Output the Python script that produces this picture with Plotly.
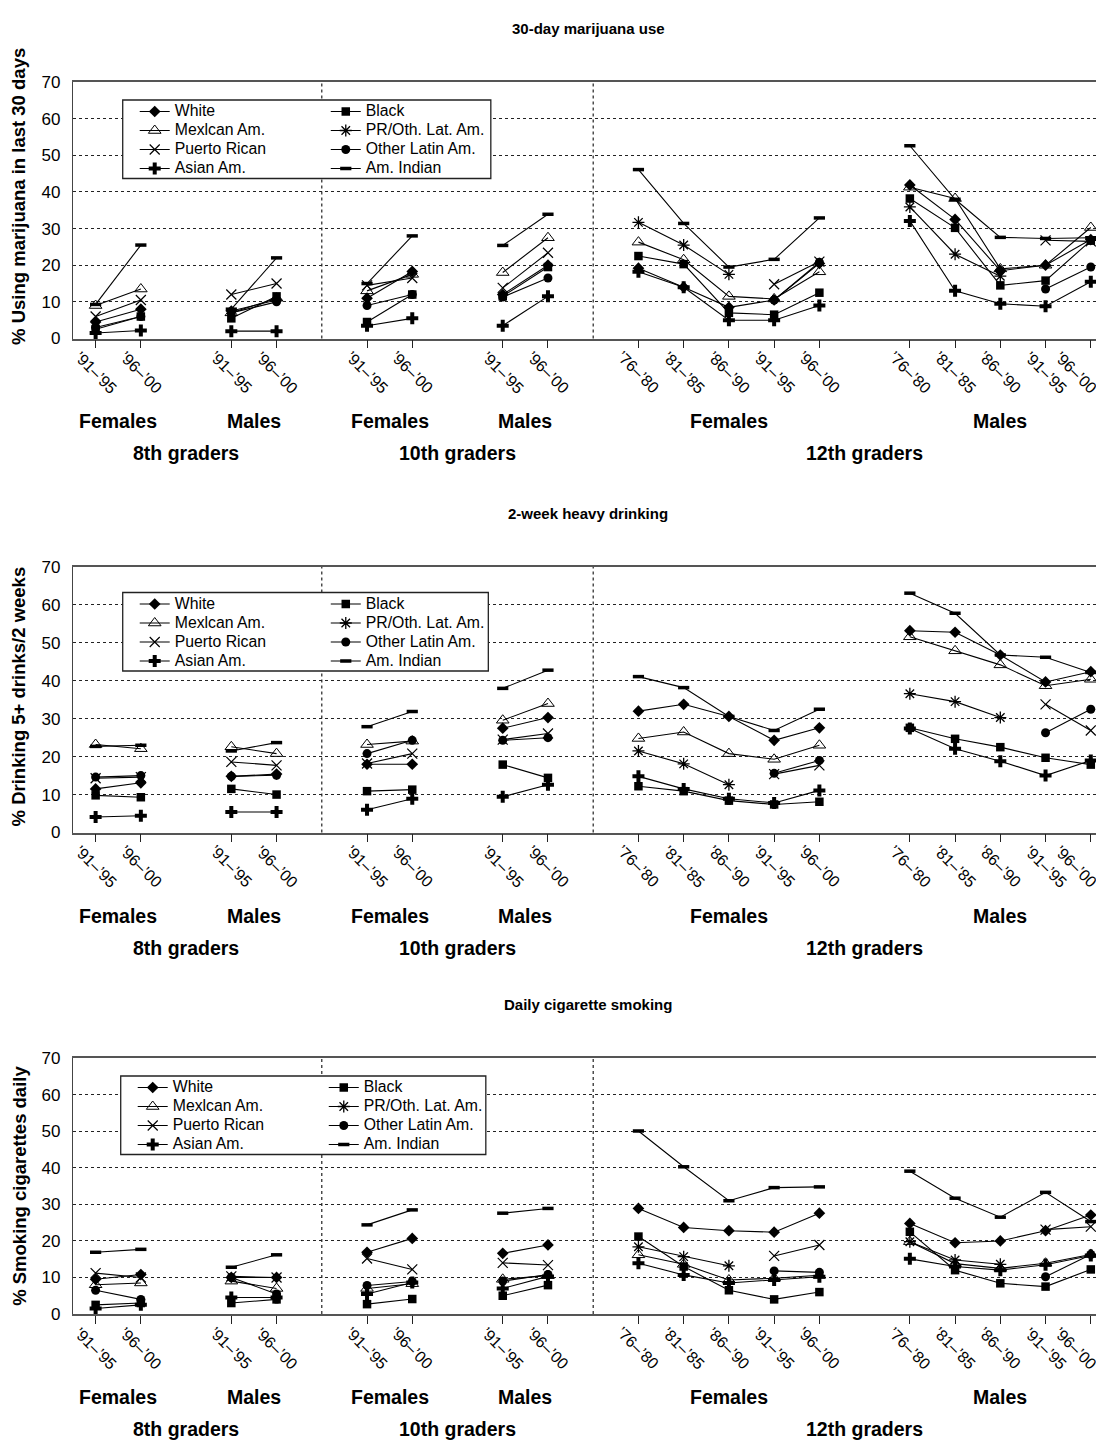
import plotly.graph_objects as go

# ---------------- categories / labels ----------------
tick_labels = ["’91–’95", "’96–’00", "’91–’95", "’96–’00",
               "’91–’95", "’96–’00", "’91–’95", "’96–’00",
               "’76–’80", "’81–’85", "’86–’90", "’91–’95", "’96–’00",
               "’76–’80", "’81–’85", "’86–’90", "’91–’95", "’96–’00"]
group_sizes = [2, 2, 2, 2, 5, 5]
sex_labels = ["Females", "Males", "Females", "Males", "Females", "Males"]
grade_labels = ["8th graders", "10th graders", "12th graders"]
panel_titles = ["30-day marijuana use", "2-week heavy drinking", "Daily cigarette smoking"]
y_titles = ["% Using marijuana in last 30 days", "% Drinking 5+ drinks/2 weeks",
            "% Smoking cigarettes daily"]
series_names = ["White", "Black", "Mexlcan Am.", "PR/Oth. Lat. Am.",
                "Puerto Rican", "Other Latin Am.", "Asian Am.", "Am. Indian"]
N = None

# ---------------- panel 1: 30-day marijuana use ----------------
mj_white = [4.5, 8.0, 7.5, 10.5, 11.0, 18.3, 12.0, 20.0, 19.2, 14.0, 8.5, 10.5, 20.5, 41.9, 32.5, 18.5, 20.0, 27.0]
mj_black = [2.5, 6.0, 5.5, 11.5, 4.5, 12.0, 11.5, 19.5, 22.5, 20.3, 7.0, 6.5, 12.5, 38.2, 30.2, 14.5, 15.8, 26.7]
mj_mexican = [9.0, 13.5, 7.0, 11.0, 13.0, 17.5, 18.0, 27.5, 26.3, 21.5, 11.5, 10.8, 18.2, 41.3, 38.2, 19.0, 20.0, 30.3]
mj_proth = [N, N, N, N, N, N, N, N, 31.7, 25.5, 17.5, N, N, 35.9, 23.0, 17.0, N, N]
mj_pr = [6.0, 10.5, 12.0, 15.0, 14.5, 16.5, 13.8, 23.4, N, N, N, 14.8, 21.0, N, N, N, 26.8, 26.5]
mj_othlat = [3.0, 6.0, 7.0, 10.0, 9.0, 12.0, 11.3, 16.5, N, N, N, 10.5, 20.8, N, N, N, 13.5, 19.5]
mj_asian = [1.5, 2.2, 2.0, 2.0, 3.5, 5.5, 3.5, 11.5, 18.2, 14.0, 5.0, 5.0, 9.0, 32.1, 13.0, 9.5, 8.8, 15.5]
mj_amind = [9.3, 25.5, 8.0, 22.0, 15.0, 28.0, 25.4, 33.9, 46.1, 31.4, 19.5, 21.6, 32.9, 52.6, 38.0, 27.6, 27.3, 27.5]

# ---------------- panel 2: 2-week heavy drinking ----------------
hd_white = [11.5, 13.1, 14.8, 15.4, 18.0, 18.0, 27.5, 30.3, 32.0, 33.8, 30.6, 24.3, 27.6, 53.2, 52.8, 46.8, 39.7, 42.4]
hd_black = [9.8, 9.3, 11.5, 10.0, 10.9, 11.3, 17.9, 14.4, 12.2, 10.9, 8.4, 7.4, 8.1, 27.6, 24.7, 22.5, 19.7, 17.9]
hd_mexican = [23.2, 22.1, 22.6, 20.8, 23.2, 24.1, 29.6, 34.0, 24.8, 26.5, 20.8, 19.3, 23.0, 51.6, 47.9, 44.2, 38.7, 40.4]
hd_proth = [N, N, N, N, N, N, N, N, 21.5, 18.1, 12.6, N, N, 36.6, 34.5, 30.3, N, N]
hd_pr = [14.3, 14.6, 18.6, 17.7, 18.2, 20.8, 24.5, 26.1, N, N, N, 15.4, 17.7, N, N, N, 33.8, 26.9]
hd_othlat = [14.6, 15.0, 14.8, 15.1, 20.8, 24.3, 24.3, 25.0, N, N, N, 15.6, 19.0, N, N, N, 26.3, 32.5]
hd_asian = [4.1, 4.4, 5.4, 5.4, 6.0, 8.9, 9.4, 12.6, 14.8, 11.5, 8.9, 7.8, 11.1, 27.4, 22.1, 18.8, 15.0, 19.0]
hd_amind = [22.7, 23.0, 21.5, 23.7, 27.9, 31.9, 38.0, 42.8, 41.1, 38.2, 30.6, 26.9, 32.5, 63.1, 57.8, 46.8, 46.2, 42.2]

# ---------------- panel 3: daily cigarette smoking ----------------
cs_white = [9.5, 10.8, 10.0, 10.0, 16.9, 20.7, 16.6, 18.9, 28.9, 23.7, 22.8, 22.4, 27.6, 24.8, 19.5, 20.0, 22.8, 27.1]
cs_black = [2.5, 3.0, 3.0, 4.0, 2.7, 4.1, 5.0, 7.9, 21.2, 13.0, 6.5, 4.0, 6.0, 22.5, 12.0, 8.4, 7.5, 12.2]
cs_mexican = [8.0, 8.5, 9.0, 7.0, 7.0, 8.3, 9.5, 10.5, 16.2, 13.6, 9.3, 9.8, 10.6, 19.8, 13.8, 12.5, 13.9, 16.3]
cs_proth = [N, N, N, N, N, N, N, N, 18.4, 15.7, 13.2, N, N, 19.8, 14.8, 13.6, N, N]
cs_pr = [11.2, 10.0, 10.3, 10.0, 15.2, 12.2, 14.0, 13.4, N, N, N, 15.9, 18.9, N, N, N, 23.1, 23.9]
cs_othlat = [6.5, 4.0, 10.0, 5.5, 7.8, 8.9, 9.0, 10.8, N, N, N, 11.8, 11.4, N, N, N, 10.2, 16.3]
cs_asian = [1.5, 2.5, 4.5, 4.5, 5.5, 8.6, 7.0, 10.3, 13.9, 10.7, 8.5, 9.3, 10.2, 15.1, 13.0, 12.0, 13.5, 16.0]
cs_amind = [16.9, 17.7, 12.8, 16.2, 24.4, 28.5, 27.6, 28.9, 50.1, 40.3, 31.0, 34.6, 34.8, 39.1, 31.7, 26.5, 33.3, 25.3]

panels = [
    [mj_white, mj_black, mj_mexican, mj_proth, mj_pr, mj_othlat, mj_asian, mj_amind],
    [hd_white, hd_black, hd_mexican, hd_proth, hd_pr, hd_othlat, hd_asian, hd_amind],
    [cs_white, cs_black, cs_mexican, cs_proth, cs_pr, cs_othlat, cs_asian, cs_amind],
]

# ---------------- styling / layout constants ----------------
OFF = 8                      # page body margin of the html page
W, H = 1104 - OFF, 1441 - OFF
PLOT_L, PLOT_R = 73.3, 1103  # target plot-area edges (screen px)
ML = PLOT_L - OFF
MR = W - (PLOT_R - OFF)
PW = W - ML - MR
FONT = "Arial, 'Liberation Sans', Helvetica, sans-serif"

# x slot positions for categories (gaps between groups)
slots = []
pos = 0
for g in group_sizes:
    for _ in range(g):
        slots.append(pos)
        pos += 1
    pos += 1
dividers = [5, 11]

markers = [
    dict(symbol="diamond", size=9, color="black"),
    dict(symbol="square", size=8.5, color="black"),
    dict(symbol="triangle-up-open", size=11, color="black", line=dict(width=1, color="black")),
    dict(symbol="asterisk-open", size=10, color="black", line=dict(width=1.3, color="black")),
    dict(symbol="x-thin-open", size=10, color="black", line=dict(width=1.2, color="black")),
    dict(symbol="circle", size=9, color="black"),
    dict(symbol="cross", size=10, color="black"),
    dict(symbol="line-ew-open", size=8, color="black", line=dict(width=3.5, color="black")),
]
left_col = [0, 2, 4, 6]

# panel geometry in screen px (top, bottom)
panel_px = [(82, 338.5), (567, 832.5), (1058.3, 1314)]
legend_box_px = [(123, 100, 491, 178.5), (123, 592.5, 488.5, 671), (121, 1076, 486, 1154.5)]
ytitle_shift = [14, 3, 0]


def px_x(px):
    return (px - OFF - ML) / PW


def px_y(py):
    return 1 - (py - OFF) / H


def split(values):
    xs, ys = [], []
    i = 0
    for g in group_sizes:
        for _ in range(g):
            xs.append(slots[i])
            ys.append(values[i])
            i += 1
        xs.append(None)
        ys.append(None)
    return xs, ys


fig = go.Figure()
annotations = []
shapes = []
layout = {}

for p in range(3):
    k = p + 1
    xa = "x" if k == 1 else f"x{k}"
    ya = "y" if k == 1 else f"y{k}"
    lg_left = "legend" if k == 1 else f"legend{2 * k - 1}"
    lg_right = f"legend{2 * k}"
    order = [0, 2, 4, 6, 1, 3, 5, 7]
    for s in order:
        xs, ys = split(panels[p][s])
        fig.add_trace(go.Scatter(
            x=xs, y=ys, mode="lines+markers",
            name=f"<span style='font-size:15.8px'>{series_names[s]}</span>",
            line=dict(color="black", width=1.1), marker=markers[s],
            connectgaps=False, xaxis=xa, yaxis=ya,
            legend=lg_left if s in left_col else lg_right,
            hoverinfo="skip", cliponaxis=False,
        ))

    top, bot = panel_px[p]
    layout[f"xaxis{'' if k == 1 else k}"] = dict(
        domain=[0, 1], anchor=ya, range=[-0.5, 22.27],
        showgrid=False, zeroline=False, showline=True, mirror=True,
        linecolor="#555", linewidth=1.6,
        tickvals=slots, ticktext=[""] * len(slots), ticks="outside",
        ticklen=8, tickcolor="#222", tickwidth=1, automargin=False,
    )
    layout[f"yaxis{'' if k == 1 else k}"] = dict(
        domain=[px_y(bot), px_y(top)], anchor=xa, range=[0, 70],
        tickvals=[0, 10, 20, 30, 40, 50, 60, 70],
        showgrid=True, gridcolor="#222", griddash="dot", gridwidth=1,
        zeroline=False, showline=True, linecolor="#444", linewidth=1.3,
        ticks="", tickfont=dict(size=17, family=FONT, color="black"),
        ticklabelstandoff=8, automargin=False,
    )
    for d in dividers:
        shapes.append(dict(type="line", xref=xa, yref=f"{ya} domain", x0=d, x1=d, y0=0, y1=1,
                           line=dict(color="#222", width=1.2, dash="dot"), layer="below"))

    # legend box
    bx0, by0, bx1, by1 = legend_box_px[p]
    shapes.append(dict(type="rect", xref="paper", yref="paper",
                       x0=px_x(bx0), x1=px_x(bx1), y0=px_y(by1), y1=px_y(by0),
                       fillcolor="white", line=dict(color="#222", width=1.3), layer="above"))
    legend_common = dict(xanchor="left", yanchor="top", bgcolor="rgba(0,0,0,0)", borderwidth=0,
                         font=dict(size=12, family=FONT, color="black"), itemwidth=30,
                         traceorder="normal", orientation="v")
    layout[lg_left] = dict(x=px_x(bx0 + 12), y=px_y(by0 - 3), **legend_common)
    layout[lg_right] = dict(x=px_x(bx0 + 203), y=px_y(by0 - 3), **legend_common)

    # rotated tick labels (centered under ticks, last one kept inside the page)
    for i, lab in enumerate(tick_labels):
        annotations.append(dict(text=lab, x=slots[i], xref=xa, y=0, yref=f"{ya} domain",
                                yshift=-34, xshift=(-15 if i == len(tick_labels) - 1 else 0),
                                yanchor="middle", xanchor="center",
                                showarrow=False, textangle=45,
                                font=dict(size=16, family=FONT, color="black")))
    # sex labels
    idx = 0
    for g, lab in zip(group_sizes, sex_labels):
        cx = (slots[idx] + slots[idx + g - 1]) / 2
        annotations.append(dict(text=f"<b>{lab}</b>", x=cx, xref=xa, y=0, yref=f"{ya} domain",
                                yshift=-83, yanchor="middle", showarrow=False,
                                font=dict(size=19.5, family=FONT, color="black")))
        idx += g
    # grade labels
    idx = 0
    for gi, lab in enumerate(grade_labels):
        n = group_sizes[2 * gi] + group_sizes[2 * gi + 1]
        cx = (slots[idx] + slots[idx + n - 1]) / 2
        annotations.append(dict(text=f"<b>{lab}</b>", x=cx, xref=xa, y=0, yref=f"{ya} domain",
                                yshift=-115, yanchor="middle", showarrow=False,
                                font=dict(size=19.5, family=FONT, color="black")))
        idx += n
    # title
    annotations.append(dict(text=f"<b>{panel_titles[p]}</b>", x=0.5, xref="paper", y=1,
                            yref=f"{ya} domain", yshift=54, yanchor="middle", showarrow=False,
                            font=dict(size=15, family=FONT, color="black")))
    # y title
    annotations.append(dict(text=f"<b>{y_titles[p]}</b>", x=px_x(19), xref="paper", y=0.5,
                            yref=f"{ya} domain", yshift=ytitle_shift[p], showarrow=False,
                            textangle=-90, xanchor="center", yanchor="middle",
                            font=dict(size=18.5, family=FONT, color="black")))

fig.update_layout(
    width=W, height=H, margin=dict(l=ML, r=MR, t=0, b=0, autoexpand=False),
    paper_bgcolor="white", plot_bgcolor="white",
    font=dict(family=FONT, color="black"),
    annotations=annotations, shapes=shapes, showlegend=True,
    **layout,
)

fig.write_html("out.html")
